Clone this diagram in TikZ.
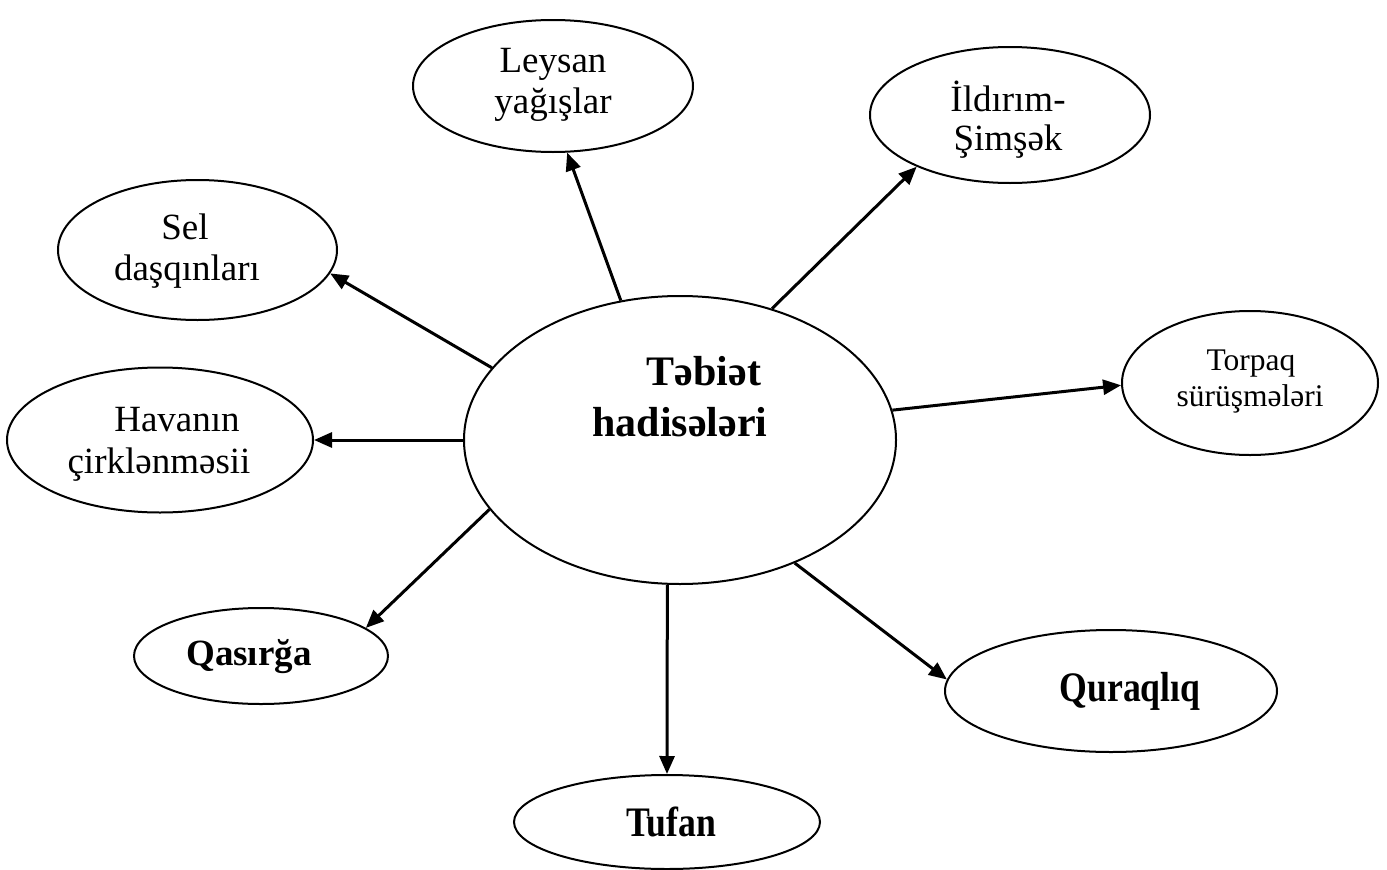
\documentclass[tikz,border=0pt]{standalone}
\usepackage{fontspec}
\setmainfont{Liberation Serif}
\newfontfamily\narrowbold[FakeStretch=0.85]{Liberation Serif Bold}
\usetikzlibrary{shapes.geometric,arrows.meta}
\begin{document}
\begin{tikzpicture}[x=1pt,y=-1pt,
  oval/.style={draw,ellipse,line width=2pt,inner sep=0pt},
  txt/.style={anchor=base,inner sep=0pt,font=\fontsize{37}{44}\selectfont},
  smalltxt/.style={anchor=base,inner sep=0pt,font=\fontsize{31.5}{38}\selectfont},
  boldtxt/.style={anchor=base,inner sep=0pt,font=\fontsize{37}{44}\selectfont\bfseries},
  narrowtxt/.style={anchor=base,inner sep=0pt,font=\fontsize{42}{50}\narrowbold},
  bigtxt/.style={anchor=base,inner sep=0pt,font=\fontsize{42}{50}\selectfont\bfseries},
  conn/.style={line width=3pt,-{Triangle[length=18pt,width=15pt]}}]
\useasboundingbox (0,0) rectangle (1387,870);
% ellipses
\node[oval,minimum width=432pt,minimum height=288pt] (c) at (680,440) {};
\node[oval,minimum width=280pt,minimum height=132pt] (ley) at (553,86) {};
\node[oval,minimum width=280pt,minimum height=136pt] (ild) at (1010,115) {};
\node[oval,minimum width=279pt,minimum height=140pt] (sel) at (197.5,250) {};
\node[oval,minimum width=306pt,minimum height=145pt] (hav) at (160,440) {};
\node[oval,minimum width=256pt,minimum height=144pt] (tor) at (1250,383) {};
\node[oval,minimum width=254pt,minimum height=96pt] (qas) at (261,656) {};
\node[oval,minimum width=306pt,minimum height=94pt] (tuf) at (667,822) {};
\node[oval,minimum width=332pt,minimum height=122pt] (qur) at (1111,691) {};
% texts
\node[bigtxt] (c1) at (704,385) {Təbiət};
\node[bigtxt] (c2) at (680,436) {hadisələri};
\node[txt] (ley1) at (553,72) {Leysan};
\node[txt] (ley2) at (553,113) {yağışlar};
\node[txt] (ild1) at (1008,111) {İldırım-};
\node[txt] (ild2) at (1008,150) {Şimşək};
\node[txt] (sel1) at (185,239) {Sel};
\node[txt] (sel2) at (187,280) {daşqınları};
\node[txt] (hav1) at (177,431) {Havanın};
\node[txt] (hav2) at (159,473) {çirklənməsii};
\node[smalltxt] (tor1) at (1251,370) {Torpaq};
\node[smalltxt] (tor2) at (1250,406) {sürüşmələri};
\node[boldtxt] (qas1) at (249,665) {Qasırğa};
\node[narrowtxt] (tuf1) at (671,836) {Tufan};
\node[narrowtxt] (qur1) at (1130,701) {Quraqlıq};
% connectors
\draw[conn] (c.113.8) -- (ley.282);
\draw[conn] (c.55.5) -- (ild.209);
\draw[conn] (c.159) -- (sel.350.7);
\draw[conn] (c.8.7) -- (tor.181);
\draw[conn] (c.180) -- (hav.0);
\draw[conn] (c.200.8) -- (qas.15.6);
\draw[conn] (c.265) -- (tuf.90);
\draw[conn] (c.313.3) -- (qur.176.2);
\end{tikzpicture}
\end{document}
